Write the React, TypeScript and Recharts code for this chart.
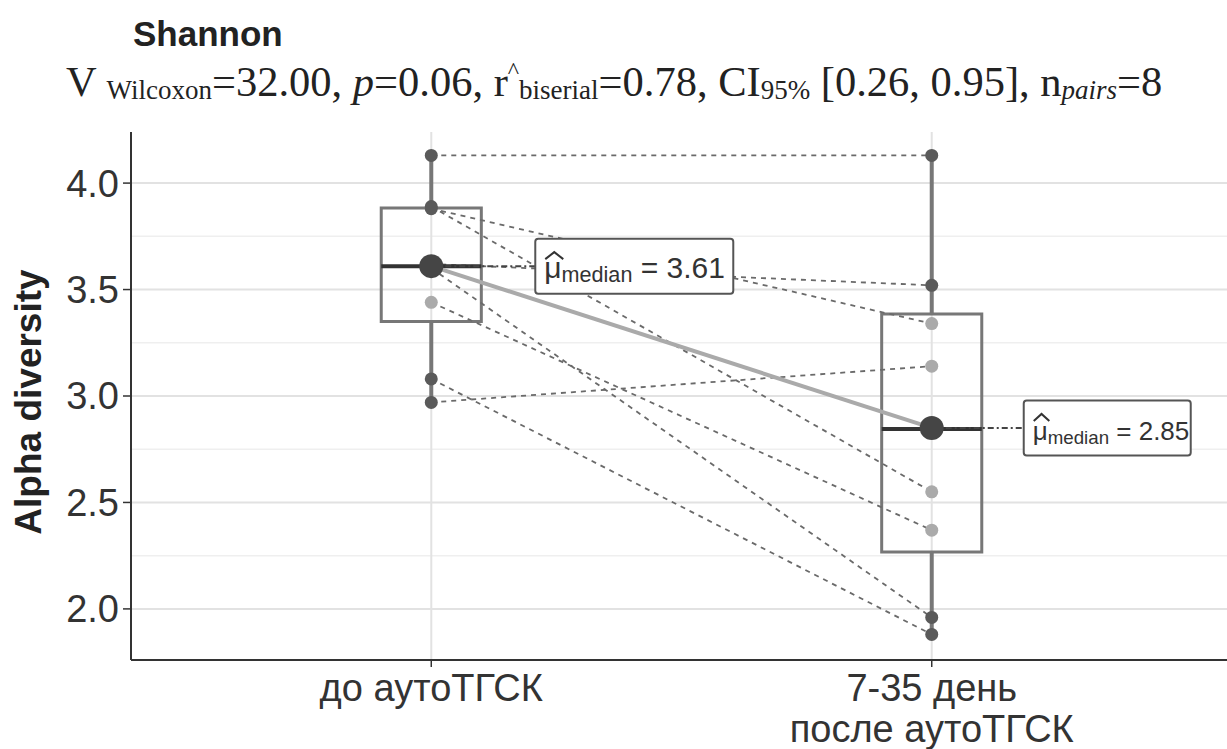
import React from 'react';
import {
  ComposedChart,
  XAxis,
  YAxis,
  CartesianGrid,
  Line,
  Scatter,
  ReferenceArea,
  ReferenceLine,
} from 'recharts';

const groups = ['до аутоТГСК', '7-35 день\nпосле аутоТГСК'];
// paired samples, same order in both arrays
const before = [4.13, 3.89, 3.88, 3.62, 3.6, 3.44, 3.08, 2.97];
const after = [4.13, 2.55, 3.34, 3.52, 1.96, 2.37, 1.88, 3.14];
const medians = [3.61, 2.85];
const yTicks = [2.0, 2.5, 3.0, 3.5, 4.0];
const minorTicks = [2.25, 2.75, 3.25, 3.75];

const SANS = 'Liberation Sans, Arial, sans-serif';
const SERIF = 'Liberation Serif, Times New Roman, serif';

// R type-7 quantile
function quantile(vals: number[], p: number) {
  const s = [...vals].sort((a, b) => a - b);
  const h = (s.length - 1) * p;
  const lo = Math.floor(h);
  const hi = Math.ceil(h);
  return s[lo] + (h - lo) * (s[hi] - s[lo]);
}

const boxes = [before, after].map((vals, i) => ({
  x: i + 1,
  min: Math.min(...vals),
  q1: quantile(vals, 0.25),
  med: quantile(vals, 0.5),
  q3: quantile(vals, 0.75),
  max: Math.max(...vals),
}));

const pointsBefore = before.map((y) => ({ x: 1, y }));
const pointsAfter = after.map((y) => ({ x: 2, y }));
const medianPts = medians.map((y, i) => ({ x: i + 1, y }));

const XTick = (props: any) => {
  const { x, payload } = props;
  const lines = groups[payload.value - 1].split('\n');
  return (
    <text x={x} y={701} textAnchor="middle" fill="#333" fontSize={38} fontFamily={SANS}>
      {lines.map((l, i) => (
        <tspan key={i} x={x} dy={i === 0 ? 0 : 41}>
          {l}
        </tspan>
      ))}
    </text>
  );
};

const MedianShape = (props: any) => {
  const { cx, cy, payload } = props;
  const left = payload.x === 1;
  const bx = cx + (left ? 104 : 92);
  const w = left ? 198 : 167;
  const h = 55;
  const fs = left ? 30 : 26;
  const tx = bx + 9;
  const label = medians[payload.x - 1].toFixed(2);
  const hw = fs * 0.3;
  return (
    <g>
      <line x1={cx} y1={cy} x2={bx} y2={cy} stroke="#444" strokeWidth={2} strokeDasharray="6 3 2 3" />
      <circle cx={cx} cy={cy} r={12} fill="#454545" />
      <rect x={bx} y={cy - h / 2} width={w} height={h} rx={3} fill="#fff" stroke="#555" strokeWidth={2} />
      <polyline
        points={`${tx + 1},${cy - 7} ${tx + 1 + hw},${cy - 14} ${tx + 1 + 2 * hw},${cy - 7}`}
        fill="none"
        stroke="#333"
        strokeWidth={2}
      />
      <text x={tx} y={cy + 12} fill="#333" fontFamily={SANS}>
        <tspan fontSize={fs}>μ</tspan>
        <tspan fontSize={fs * 0.72} dy={4}>median</tspan>
        <tspan fontSize={fs} dy={-4}> = {label}</tspan>
      </text>
    </g>
  );
};

const boxOf = (x: number) => boxes[x - 1];

const SmallDot = (props: any) => {
  const { cx, cy, payload } = props;
  const b = boxOf(payload.x);
  const inside = payload.y > b.q1 + 0.02 && payload.y < b.q3 - 0.02;
  return <circle cx={cx} cy={cy} r={6.5} fill={inside ? '#aaa' : '#5a5a5a'} />;
};

export default function App() {
  return (
    <div style={{ position: 'absolute', left: 0, top: 0, width: 1227, height: 749, background: '#fff' }}>
      <ComposedChart width={1227} height={749} margin={{ top: 132, right: 0, bottom: 0, left: 0 }}>
        <CartesianGrid horizontalValues={minorTicks} vertical={false} stroke="#efefef" strokeWidth={1.5} />
        <CartesianGrid horizontalValues={yTicks} verticalValues={[1, 2]} stroke="#e2e2e2" strokeWidth={2} />
        <XAxis
          type="number"
          dataKey="x"
          domain={[0.4, 2.59]}
          ticks={[1, 2]}
          allowDataOverflow
          height={89}
          tick={<XTick />}
          tickSize={7}
          axisLine={{ stroke: '#333', strokeWidth: 2 }}
          tickLine={{ stroke: '#333', strokeWidth: 1.5 }}
        />
        <YAxis
          type="number"
          dataKey="y"
          domain={[1.76, 4.24]}
          ticks={yTicks}
          allowDataOverflow
          width={131}
          tickFormatter={(v: number) => v.toFixed(1)}
          tick={{ fill: '#333', fontSize: 38, fontFamily: SANS }}
          tickSize={8}
          tickMargin={4}
          axisLine={{ stroke: '#333', strokeWidth: 2 }}
          tickLine={{ stroke: '#333', strokeWidth: 1.5 }}
        />
        {before.map((b, i) => (
          <Line
            key={i}
            data={[
              { x: 1, y: b },
              { x: 2, y: after[i] },
            ]}
            dataKey="y"
            stroke="#6a6a6a"
            strokeWidth={1.8}
            strokeDasharray="5 5"
            dot={false}
            activeDot={false}
            isAnimationActive={false}
          />
        ))}
        <Scatter data={pointsBefore} shape={<SmallDot />} isAnimationActive={false} />
        <Scatter data={pointsAfter} shape={<SmallDot />} isAnimationActive={false} />
        {boxes.map((b) => (
          <ReferenceArea
            key={'box' + b.x}
            x1={b.x - 0.1}
            x2={b.x + 0.1}
            y1={b.q1}
            y2={b.q3}
            fill="#fff"
            fillOpacity={0}
            stroke="#777"
            strokeWidth={3}
          />
        ))}
        {boxes.map((b) => (
          <ReferenceLine
            key={'wl' + b.x}
            segment={[
              { x: b.x, y: b.min },
              { x: b.x, y: b.q1 },
            ]}
            stroke="#777"
            strokeWidth={4}
          />
        ))}
        {boxes.map((b) => (
          <ReferenceLine
            key={'wh' + b.x}
            segment={[
              { x: b.x, y: b.q3 },
              { x: b.x, y: b.max },
            ]}
            stroke="#777"
            strokeWidth={4}
          />
        ))}
        {boxes.map((b) => (
          <ReferenceLine
            key={'med' + b.x}
            segment={[
              { x: b.x - 0.1, y: b.med },
              { x: b.x + 0.1, y: b.med },
            ]}
            stroke="#333"
            strokeWidth={4}
          />
        ))}
        <Line
          data={medianPts}
          dataKey="y"
          stroke="#aaa"
          strokeWidth={4}
          dot={false}
          activeDot={false}
          isAnimationActive={false}
        />
        <Scatter data={medianPts} shape={<MedianShape />} isAnimationActive={false} />
      </ComposedChart>
      <svg width={1227} height={749} style={{ position: 'absolute', left: 0, top: 0, pointerEvents: 'none' }}>
        <text x={133} y={46} fontSize={35} fontWeight="bold" fill="#222" fontFamily={SANS}>
          Shannon
        </text>
        <text x={66} y={96} fontSize={42.5} fill="#222" fontFamily={SERIF}>
          <tspan>V </tspan>
          <tspan fontSize={27} dy={3}>Wilcoxon</tspan>
          <tspan dy={-3}>=32.00, </tspan>
          <tspan fontStyle="italic">p</tspan>
          <tspan>=0.06, r</tspan>
          <tspan fontSize={24} dy={-18}>^</tspan>
          <tspan fontSize={27} dy={21}>biserial</tspan>
          <tspan dy={-3}>=0.78, CI</tspan>
          <tspan fontSize={27} dy={3}>95%</tspan>
          <tspan dy={-3}> [0.26, 0.95], n</tspan>
          <tspan fontSize={27} dy={3} fontStyle="italic">pairs</tspan>
          <tspan dy={-3}>=8</tspan>
        </text>
        <text
          x={0}
          y={0}
          transform="translate(41,402) rotate(-90)"
          textAnchor="middle"
          fontSize={37}
          fontWeight="bold"
          fill="#222"
          fontFamily={SANS}
        >
          Alpha diversity
        </text>
      </svg>
    </div>
  );
}
